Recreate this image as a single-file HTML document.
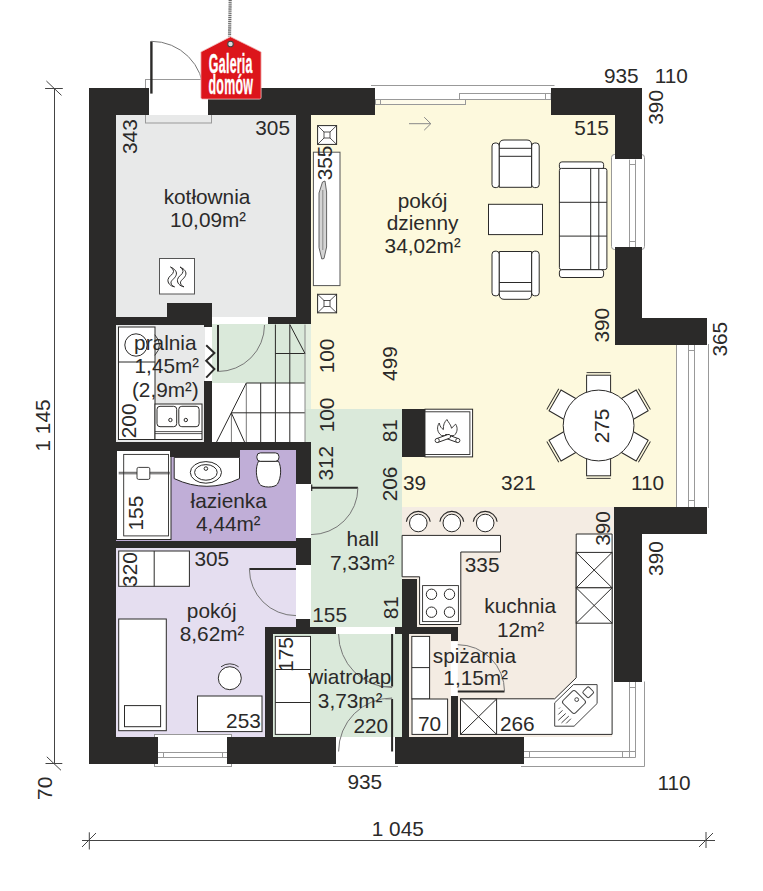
<!DOCTYPE html>
<html><head><meta charset="utf-8">
<style>
html,body{margin:0;padding:0;background:#fff;width:763px;height:891px;overflow:hidden}
svg{display:block}
text{font-family:"Liberation Sans",sans-serif;fill:#2b2a29}
.t{font-size:20.8px}
.r{font-size:20.8px}
.ln{fill:none;stroke:#2b2a29;stroke-width:1}
.lg{fill:none;stroke:#9a9a9a;stroke-width:1}
.fw{fill:#fff;stroke:#2b2a29;stroke-width:1}
.wl{fill:#2b2a29}
</style></head>
<body>
<svg width="763" height="891" viewBox="0 0 763 891">
<!-- ROOM FILLS -->
<g id="fills">
  <rect x="116" y="115" width="180" height="202" fill="#e8e9e9"/>
  <rect x="116" y="324" width="89" height="118" fill="#e8e9e9"/>
  <polygon points="311,115 615,115 615,344 677,344 677,507 402,507 402,409 311,409" fill="#fdf9dd"/>
  <rect x="375" y="99" width="177" height="16" fill="#fdf9dd"/>
  <rect x="212" y="324" width="93" height="59" fill="#dae9da"/>
  <rect x="305" y="324" width="6" height="85" fill="#e3eee0"/>
  <rect x="212" y="383" width="93" height="60" fill="#fff"/>
  <rect x="305" y="409" width="97" height="218" fill="#dae9da"/>
  <rect x="273" y="627" width="130" height="110" fill="#dae9da"/>
  <rect x="402" y="507" width="213" height="230" fill="#f4ece3"/>
  <rect x="612" y="534" width="3" height="203" fill="#fff"/>
  <rect x="116" y="450" width="180" height="91" fill="#c0aed7"/>
  <rect x="116" y="548" width="180" height="79" fill="#e5def0"/>
  <rect x="116" y="620" width="149" height="117" fill="#e5def0"/>
</g>


<!-- FURNITURE / FIXTURES (under walls) -->
<g id="furn" fill="#fff" stroke="#2b2a29" stroke-width="1">
  <!-- kotlownia boiler -->
  <rect x="159.5" y="258.5" width="35" height="35.5" stroke="#555"/>
  <path id="flm" d="M170.5,267 C175,269 177.5,272 176,275.5 C174.5,279 170.5,280.5 171,283 C171.3,285 172.5,286 174.5,286.8 C170,286 167.5,283 168,279.5 C168.5,276 173.5,274.5 173.5,271.5 C173.5,269.5 172,268 170.5,267 Z" fill="none" stroke-width="1"/><use href="#flm" transform="translate(9.5,0)"/>
  <!-- pralnia washer column -->
  <rect x="118.5" y="327" width="36.5" height="112.5"/>
  <line x1="118.5" y1="362" x2="155" y2="362"/>
  <circle cx="136" cy="345" r="11.2" fill="none"/>
  <path d="M154.8,334.7 Q164,345 154.8,355.4" fill="none" stroke-width="0.9"/>
  <!-- pralnia sink counter -->
  <rect x="155" y="404" width="47" height="35.5"/>
  <rect x="157" y="406.3" width="19.7" height="20.4" rx="3"/>
  <rect x="178.8" y="406.3" width="20.3" height="20.4" rx="3"/>
  <circle cx="170.4" cy="420" r="1.7"/>
  <circle cx="185.8" cy="420" r="1.7"/>
  <line x1="155" y1="431.6" x2="202" y2="431.6" stroke-width="0.8"/>
  <line x1="155" y1="433.6" x2="202" y2="433.6" stroke-width="0.8"/>
  <!-- bathtub -->
  <rect x="116.5" y="450.5" width="54.5" height="89"/>
  <rect x="123.7" y="454.4" width="44.8" height="81.5" stroke-width="0.9"/>
  <line x1="118.7" y1="472.3" x2="169.8" y2="472.3" stroke-width="0.8"/>
  <line x1="118.7" y1="473.8" x2="169.8" y2="473.8" stroke-width="0.8"/>
  <rect x="137" y="467.4" width="12.8" height="12" rx="1.5" stroke-width="0.9"/>
  <!-- bathroom sink counter -->
  <path d="M174.2,457.4 L239.5,457.4 L239.5,478.6 Q207,494 174.2,478.6 Z"/>
  <ellipse cx="205.9" cy="472.4" rx="15.6" ry="10.8"/>
  <ellipse cx="205.9" cy="472.4" rx="11.3" ry="7.8"/>
  <circle cx="205.9" cy="468.6" r="1.8"/>
  <!-- toilet -->
  <path d="M258.5,461.3 C255.5,467 255.5,477 259.5,484 C262,488 275,488 277.5,484 C281.5,477 281.5,467 278.5,461.3 Z"/>
  <rect x="256.9" y="452.9" width="22" height="8.4" rx="3.5"/>
  <!-- pokoj shelf -->
  <rect x="118.7" y="551" width="70.7" height="35.3"/>
  <line x1="154.2" y1="551" x2="154.2" y2="586.3"/>
  <!-- bed -->
  <rect x="118.7" y="619" width="47.6" height="111.7"/>
  <rect x="124.5" y="705.6" width="36.1" height="21.1"/>
  <!-- chair -->
  <circle cx="229.8" cy="678.2" r="11.5"/>
  <path d="M221,666.8 A14.5,14.5 0 0 1 238.6,666.8" fill="none" stroke-width="0.9"/>
  <!-- desk -->
  <rect x="197.5" y="696" width="64.5" height="35.6"/>
  <!-- wiatrolap shelf -->
  <rect x="275.3" y="636.4" width="35.2" height="98"/>
  <line x1="275.3" y1="669.5" x2="310.5" y2="669.5"/>
  <line x1="275.3" y1="702.5" x2="310.5" y2="702.5"/>
  <!-- living: vents -->
  <rect x="317.6" y="125.6" width="19" height="18.8"/>
  <rect x="324" y="132" width="6" height="6" stroke-width="0.8"/>
  <path d="M317.6,125.6 L324,132 M336.6,125.6 L330,132 M317.6,144.4 L324,138 M336.6,144.4 L330,138" fill="none" stroke-width="0.8"/>
  <rect x="317.6" y="294.3" width="19" height="18.5"/>
  <rect x="324" y="300.5" width="6" height="6" stroke-width="0.8"/>
  <path d="M317.6,294.3 L324,300.5 M336.6,294.3 L330,300.5 M317.6,312.8 L324,306.5 M336.6,312.8 L330,306.5" fill="none" stroke-width="0.8"/>
  <!-- radiator -->
  <rect x="313.4" y="152.2" width="26.6" height="133.4" stroke="#555"/>
  <path d="M325,181 L326.6,192 L326.6,247 L324,258.5 L321.8,259 L319,247.5 L319,193 L322.5,182 Z" fill="#d4d4d4" stroke="#555" stroke-width="0.9"/><line x1="322.8" y1="190" x2="322.8" y2="250" stroke="#777" stroke-width="0.8"/>
  <!-- armchair top -->
  <rect x="492" y="143" width="7.3" height="44.6" rx="3"/>
  <rect x="531.6" y="143" width="7.6" height="44.6" rx="3"/>
  <path d="M499.3,187.3 L499.3,145 Q499.3,140 504,140 L527,140 Q531.6,140 531.6,145 L531.6,187.3 Z"/>
  <line x1="499.3" y1="148.3" x2="531.6" y2="148.3"/>
  <line x1="499.3" y1="156.3" x2="531.6" y2="156.3"/>
  <!-- coffee table -->
  <rect x="488.5" y="204.3" width="54" height="30.3"/>
  <!-- armchair bottom -->
  <rect x="492" y="251.2" width="7.3" height="44.6" rx="3"/>
  <rect x="531.6" y="251.2" width="7.6" height="44.6" rx="3"/>
  <path d="M499.3,251.5 L499.3,294 Q499.3,299.3 504,299.3 L527,299.3 Q531.6,299.3 531.6,294 L531.6,251.5 Z"/>
  <line x1="499.3" y1="291.2" x2="531.6" y2="291.2"/>
  <line x1="499.3" y1="282.5" x2="531.6" y2="282.5"/>
  <!-- sofa -->
  <rect x="559.4" y="161.9" width="44.2" height="7.5" rx="2.5"/>
  <rect x="559.4" y="269.6" width="44.2" height="7.9" rx="2.5"/>
  <rect x="559.4" y="168.4" width="47.5" height="101.2" rx="2"/>
  <line x1="559.4" y1="202.3" x2="606.9" y2="202.3"/>
  <line x1="559.4" y1="236.1" x2="606.9" y2="236.1"/>
  <line x1="590.7" y1="168.4" x2="590.7" y2="269.6"/>
  <line x1="598.8" y1="168.4" x2="598.8" y2="269.6"/>
  <!-- fireplace -->
  <rect x="425" y="409.2" width="47.6" height="47.7"/>
  <rect x="425" y="411.8" width="44.9" height="42.7" stroke-width="0.9"/>
  <g stroke-width="0.9">
    <path d="M441.6,435.6 C437,432.5 436.5,427 439.2,423 C440,426.5 441.5,428.5 443.4,429.5 C443,425 444.5,422 446.9,419.5 C448.5,422.5 451,425 451.6,428.3 C452.5,427 454,425.5 455.7,424.2 C458,428 457.5,432.5 454,435.6 Z" fill="#fff"/>
    <rect x="-7.5" y="-2" width="15" height="4" rx="2" transform="translate(451.6,438.3) rotate(20)" fill="#fff"/>
    <rect x="-7.5" y="-2" width="15" height="4" rx="2" transform="translate(443.4,438.3) rotate(-20)" fill="#fff"/>
    <circle cx="437.2" cy="440.5" r="2.1" fill="#fff"/>
    <circle cx="457.8" cy="440.5" r="2.1" fill="#fff"/>
  </g>
  <!-- dining chairs -->
  <g transform="translate(598.6,425.5)">
    <g id="chair"><rect x="-12" y="-50.3" width="24" height="22"/><line x1="-12" y1="-52.9" x2="12" y2="-52.9" stroke-width="0.9"/></g>
    <use href="#chair" transform="rotate(60)"/>
    <use href="#chair" transform="rotate(120)"/>
    <use href="#chair" transform="rotate(180)"/>
    <use href="#chair" transform="rotate(240)"/>
    <use href="#chair" transform="rotate(300)"/>
    <circle cx="0" cy="0" r="35.4"/>
  </g>
  <!-- kitchen stools -->
  <g fill="#fff">
    <circle cx="418.3" cy="523" r="8.8"/><path d="M406.4,521.8 A12,12 0 0 1 430.2,521.8" fill="none" stroke-width="1.1"/>
    <circle cx="451.8" cy="523" r="8.8"/><path d="M439.9,521.8 A12,12 0 0 1 463.7,521.8" fill="none" stroke-width="1.1"/>
    <circle cx="485.2" cy="523" r="8.8"/><path d="M473.3,521.8 A12,12 0 0 1 497.1,521.8" fill="none" stroke-width="1.1"/>
  </g>
  <!-- kitchen L counter -->
  <path d="M402.1,535.4 L500.5,535.4 L500.5,552 L460.8,552 L460.8,624.5 L419.6,624.5 L419.6,576.8 L402.1,576.8 Z"/>
  <rect x="422.6" y="585.6" width="35.8" height="36" stroke-width="0.9"/>
  <circle cx="431.5" cy="594.3" r="5.2"/><circle cx="449.5" cy="594.3" r="5.2"/>
  <circle cx="431.5" cy="612.2" r="5.2"/><circle cx="449.5" cy="612.2" r="5.2"/>
  <!-- kitchen right counter -->
  <path d="M576.2,534 L612.1,534 L612.1,734.4 L460.5,734.4 L460.5,698.8 L554.7,698.8 L576.2,677.8 Z"/>
  <rect x="576.2" y="552.4" width="35.9" height="35.4"/>
  <path d="M576.2,552.4 L612.1,587.8 M612.1,552.4 L576.2,587.8" fill="none"/>
  <rect x="576.2" y="587.8" width="35.9" height="35.4"/>
  <path d="M576.2,587.8 L612.1,623.2 M612.1,587.8 L576.2,623.2" fill="none"/>
  <!-- corner sink -->
  <path d="M554.7,702.8 L573.5,684.6 L597.1,684.6 L597.1,703.5 L574.1,726.2 L554.7,726.2 Z" stroke="#444"/>
  <rect x="-8.8" y="-8.8" width="17.6" height="17.6" rx="2.5" transform="translate(574,702) rotate(45)" stroke="#444"/>
  <rect x="-4.2" y="-4.2" width="8.4" height="8.4" rx="1.5" transform="translate(588.2,692.3) rotate(45)" stroke="#444"/>
  <circle cx="576.7" cy="699.6" r="1.9" stroke="#444"/>
  <path d="M559,708.6 L560,707.6 M558.3,714.5 L562.5,710.3 M558.3,720.3 L565.7,713.5 M561.5,722.9 L568.8,716.1 M566.2,723.4 L570.9,718.7" fill="none" stroke="#444"/>
  <!-- pantry -->
  <rect x="411.8" y="636.4" width="17.8" height="62.6"/>
  <line x1="411.8" y1="667.6" x2="429.6" y2="667.6"/>
  <rect x="412" y="699" width="35.6" height="35.4"/>
  <rect x="460.5" y="699" width="36.1" height="35.4"/>
  <path d="M460.5,699 L496.6,734.4 M496.6,699 L460.5,734.4" fill="none"/>
</g>


<!-- STAIRS -->
<g id="stairs" fill="none" stroke="#2b2a29" stroke-width="1">
  <line x1="246.3" y1="383" x2="305" y2="383"/>
  <line x1="260.7" y1="383" x2="260.7" y2="442.5"/>
  <line x1="275.4" y1="324.5" x2="275.4" y2="442.5"/>
  <line x1="289.8" y1="324.5" x2="289.8" y2="442.5"/>
  <line x1="246.3" y1="383" x2="246.3" y2="442.5" stroke="#777"/>
  <line x1="231.4" y1="413" x2="231.4" y2="442.5" stroke="#777"/>
  <line x1="231.4" y1="412.8" x2="305" y2="412.8"/>
  <line x1="275.4" y1="353.5" x2="305" y2="353.5"/>
  <line x1="305" y1="324.5" x2="305" y2="442.5" stroke="#888"/>
  <line x1="216.2" y1="442.8" x2="246.3" y2="383"/>
  <line x1="231.4" y1="413" x2="244.9" y2="442.8"/>
  <line x1="289.8" y1="324.5" x2="305" y2="353.5"/>
</g>

<!-- WINDOWS -->
<g id="windows" stroke="#999" stroke-width="1" fill="none">
  <!-- top living -->
  <rect x="375" y="86" width="176" height="13.6" fill="#fff" stroke="none"/>
  <line x1="371" y1="85.5" x2="554.5" y2="85.5"/>
  <rect x="375.5" y="99.5" width="90" height="5" fill="#fefbea"/>
  <line x1="380.5" y1="99.5" x2="380.5" y2="104.5"/>
  <rect x="459.5" y="93.5" width="91.5" height="6" fill="#fff"/>
  <line x1="545.5" y1="93.5" x2="545.5" y2="99.5"/>
  <!-- right upper -->
  <rect x="611.5" y="154.5" width="33" height="95" rx="3" fill="#fff"/>
  <line x1="629.5" y1="159.6" x2="629.5" y2="247"/>
  <line x1="635.5" y1="159.6" x2="635.5" y2="247"/>
  <line x1="629.5" y1="164.5" x2="635.5" y2="164.5"/>
  <line x1="629.5" y1="241.5" x2="635.5" y2="241.5"/>
  <!-- right lower -->
  <rect x="676.7" y="344" width="32" height="163" fill="#fff" stroke="none"/>
  <line x1="676.5" y1="344" x2="676.5" y2="507"/>
  <line x1="708.5" y1="344" x2="708.5" y2="508"/>
  <line x1="688.5" y1="345" x2="688.5" y2="507"/>
  <line x1="694.5" y1="345" x2="694.5" y2="507"/>
  <line x1="688.5" y1="350.5" x2="694.5" y2="350.5"/>
  <line x1="688.5" y1="500.5" x2="694.5" y2="500.5"/>
  <!-- right bottom + corner -->
  <path d="M644.5,681.5 L644.5,766.5 L521,766.5" />
  <line x1="629.5" y1="681.5" x2="629.5" y2="757.5"/>
  <line x1="635.5" y1="681.5" x2="635.5" y2="757.5"/>
  <line x1="523.6" y1="751.5" x2="635.5" y2="751.5"/>
  <line x1="523.6" y1="757.5" x2="635.5" y2="757.5"/>
  <line x1="629.5" y1="751.5" x2="629.5" y2="757.5"/>
  <line x1="629.5" y1="687.5" x2="635.5" y2="687.5"/>
  <line x1="622.5" y1="751.5" x2="622.5" y2="757.5"/>
  <line x1="529.5" y1="751.5" x2="529.5" y2="757.5"/>
  <!-- bottom left -->
  <rect x="154.5" y="734.5" width="77" height="32" fill="#fff"/>
  <line x1="158" y1="752.5" x2="227.8" y2="752.5"/>
  <line x1="158" y1="757.5" x2="227.8" y2="757.5"/>
  <line x1="163.5" y1="752.5" x2="163.5" y2="757.5"/>
  <line x1="222.5" y1="752.5" x2="222.5" y2="757.5"/>
  <!-- entry threshold -->
  <rect x="336" y="737" width="59" height="27" fill="#fff" stroke="none"/>
  <line x1="333" y1="766.5" x2="398" y2="766.5"/>
  <!-- kotlownia ext door frame -->
  <rect x="149" y="87" width="59" height="28" fill="#fff" stroke="none"/>
  <rect x="145.5" y="79.5" width="66" height="43.5"/>
</g>
<!-- DOORS -->
<g id="doors" fill="none" stroke="#2b2a29">
  <line x1="151.4" y1="41.3" x2="151.4" y2="93.6" stroke-width="2.4"/>
  <path d="M151.4,41.3 A52.3,52.3 0 0 1 203.7,93.6" stroke="#777" stroke-width="1"/>
  <line x1="218" y1="325" x2="218" y2="371.5" stroke-width="2"/>
  <path d="M218,371.5 A46.5,46.5 0 0 0 264.5,325" stroke="#777" stroke-width="1"/>
  <polyline points="206.2,345.3 214.4,353 206.2,360.7 214.4,369.1 206.2,377.6" stroke-width="2"/>
  <!-- hall/lazienka -->
  <rect x="296" y="484" width="15" height="54" fill="#fff" stroke="none"/>
  <line x1="311" y1="487.7" x2="357.9" y2="487.7" stroke-width="2"/>
  <line x1="311.7" y1="484.5" x2="311.7" y2="491" stroke-width="1.2"/>
  <path d="M357.9,487.7 A46.9,46.9 0 0 1 311,534.6" stroke="#777" stroke-width="1"/>
  <!-- pokoj door -->
  <rect x="296" y="565" width="15" height="54" fill="#fff" stroke="none"/>
  <line x1="249.4" y1="569" x2="296" y2="569" stroke-width="2"/>
  <path d="M249.4,569 A46.6,46.6 0 0 0 296,615.6" stroke="#777" stroke-width="1"/>
  <!-- wiatrolap inner -->
  <rect x="336" y="627" width="59" height="7" fill="#fff" stroke="none"/>
  <line x1="392.1" y1="634" x2="392.1" y2="686.5" stroke-width="2"/>
  <line x1="379.5" y1="686.5" x2="392.1" y2="686.5" stroke="#777" stroke-width="0.8"/>
  <path d="M338.6,634 A53.5,53.5 0 0 0 392.1,687.5" stroke="#777" stroke-width="1"/>
  <!-- entry -->
  <line x1="392.1" y1="699" x2="392.1" y2="751.5" stroke-width="2"/>
  <line x1="385.4" y1="699" x2="392.1" y2="699" stroke="#777" stroke-width="0.8"/>
  <path d="M338.6,751.5 A53.5,53.5 0 0 1 392.1,698" stroke="#777" stroke-width="1"/>
  <!-- pantry -->
  <rect x="450.8" y="641.5" width="7" height="55" fill="#fff" stroke="none"/>
  <line x1="457.8" y1="691.4" x2="504.5" y2="691.4" stroke-width="2"/>
  <path d="M457.8,644.7 A46.7,46.7 0 0 1 504.5,691.4" stroke="#777" stroke-width="1"/>
  <!-- arrow -->
  <path d="M409,123.7 L430.8,123.7 M424.2,117.2 L430.8,123.7 L424.2,130.2" stroke="#888" stroke-width="1"/>
</g>
<!-- WALLS -->
<g class="wl">
  <rect x="89" y="88" width="60" height="27"/>
  <rect x="89" y="88" width="27" height="676"/>
  <rect x="208" y="88" width="167" height="27"/>
  <rect x="551" y="88" width="91" height="27"/>
  <rect x="615" y="88" width="27" height="71"/>
  <rect x="615" y="247" width="27" height="98"/>
  <rect x="615" y="318" width="92" height="27"/>
  <rect x="614" y="507" width="93" height="27"/>
  <rect x="614" y="507" width="28" height="175"/>
  <rect x="89" y="737" width="69" height="27"/>
  <rect x="227" y="737" width="109" height="27"/>
  <rect x="395" y="737" width="129" height="27"/>
  <!-- interior -->
  <rect x="296" y="115" width="15" height="209"/>
  <rect x="116" y="317" width="89" height="8"/>
  <rect x="167" y="303" width="45" height="14"/>
  <rect x="204" y="303" width="8" height="24"/>
  <rect x="268" y="317" width="43" height="7"/>
  <rect x="204" y="381" width="8" height="62"/>
  <rect x="116" y="442" width="195" height="8"/>
  <rect x="170" y="450" width="70" height="7"/>
  <rect x="296" y="442" width="15" height="42"/>
  <rect x="296" y="538" width="15" height="27"/>
  <rect x="116" y="541" width="180" height="7"/>
  <rect x="296" y="619" width="14" height="8"/>
  <rect x="265" y="627" width="71" height="7"/>
  <rect x="395" y="627" width="8" height="7"/>
  <rect x="265" y="627" width="8" height="110"/>
  <rect x="402" y="409" width="23" height="48"/>
  <rect x="402" y="579" width="15" height="48"/>
  <rect x="402" y="627" width="7" height="110"/>
  <rect x="395" y="627" width="63" height="7"/>
  <rect x="451" y="627" width="7" height="14"/>
  <rect x="451" y="696" width="7" height="41"/>
</g>


<!-- DIMENSION LINES -->
<g fill="none" stroke="#444" stroke-width="1">
  <line x1="54.5" y1="88.5" x2="54.5" y2="763.5"/>
  <line x1="45.1" y1="88.5" x2="62.8" y2="88.5"/>
  <line x1="46.4" y1="81" x2="61.5" y2="95.4"/>
  <line x1="45.5" y1="763.5" x2="62.3" y2="763.5"/>
  <line x1="46.8" y1="756.8" x2="61" y2="770.3"/>
  <line x1="82" y1="840.5" x2="715" y2="840.5"/>
  <line x1="89.3" y1="832.3" x2="89.3" y2="849.5"/>
  <line x1="82" y1="847" x2="96" y2="833"/>
  <line x1="706" y1="832" x2="706" y2="848"/>
  <line x1="699" y1="847" x2="713" y2="833"/>
</g>
<!-- TAG -->
<g id="tag">
  <line x1="230.2" y1="0" x2="229.5" y2="36.5" stroke="#6a6a6a" stroke-width="3.2" stroke-dasharray="1.3,0.8"/>
  <path d="M230.5,36.7 L261.1,51.9 L261.1,97.5 Q261.1,99.1 259.5,99.1 L202.5,99.1 Q200.9,99.1 200.9,97.5 L200.9,51.9 Z" fill="#dc151b" stroke="#f3c0c0" stroke-width="0.8" stroke-linejoin="round"/>
  <circle cx="230.5" cy="44" r="2.8" fill="#ddd" stroke="#444" stroke-width="1.1"/>
  <text x="0" y="0" transform="translate(230.8,72.7) scale(0.435,1)" text-anchor="middle" style="font-family:'Liberation Sans',sans-serif;font-weight:bold;font-size:28.5px;fill:#fff;stroke:#fff;stroke-width:0.45;letter-spacing:0.6px">Galeria</text>
  <text x="0" y="0" transform="translate(230.8,94.4) scale(0.435,1)" text-anchor="middle" style="font-family:'Liberation Sans',sans-serif;font-weight:bold;font-size:28.5px;fill:#fff;stroke:#fff;stroke-width:0.45;letter-spacing:0.6px">domów</text>
</g>

<!-- TEXT -->
<g id="texts">
  <text class="t" x="207" y="204" text-anchor="middle">kotłownia</text>
  <text class="t" x="208" y="226.5" text-anchor="middle">10,09m<tspan style="font-size:20px">²</tspan></text>
  <text class="t" x="290" y="134.7" text-anchor="end">305</text>
  <text class="r" transform="translate(136.8,154) rotate(-90)">343</text>
  <text class="r" transform="translate(332.3,180.3) rotate(-90)">355</text>
  <text class="t" x="422.6" y="208" text-anchor="middle">pokój</text>
  <text class="t" x="422.6" y="229.5" text-anchor="middle">dzienny</text>
  <text class="t" x="422.6" y="252.7" text-anchor="middle">34,02m<tspan style="font-size:20px">²</tspan></text>
  <text class="t" x="638.7" y="82.8" text-anchor="end">935</text>
  <text class="t" x="687.9" y="82.8" text-anchor="end">110</text>
  <text class="r" transform="translate(663.2,124.7) rotate(-90)">390</text>
  <text class="t" x="608.9" y="135.2" text-anchor="end">515</text>
  <text class="r" transform="translate(609.4,342.6) rotate(-90)">390</text>
  <text class="r" transform="translate(727.3,356.6) rotate(-90)">365</text>
  <text class="r" transform="translate(396.7,380.9) rotate(-90)">499</text>
  <text class="r" transform="translate(333.8,373.3) rotate(-90)">100</text>
  <text class="r" transform="translate(333.8,432.3) rotate(-90)">100</text>
  <text class="r" transform="translate(397.4,442.2) rotate(-90)">81</text>
  <text class="r" transform="translate(333.4,480.6) rotate(-90)">312</text>
  <text class="r" transform="translate(397.4,501.3) rotate(-90)">206</text>
  <text class="t" x="403" y="490.3">39</text>
  <text class="t" x="535.8" y="490.3" text-anchor="end">321</text>
  <text class="t" x="664.2" y="490.3" text-anchor="end">110</text>
  <text class="r" transform="translate(608.7,443.3) rotate(-90)">275</text>
  <text class="r" transform="translate(609.5,545.8) rotate(-90)">390</text>
  <text class="r" transform="translate(662.9,575.9) rotate(-90)">390</text>
  <text class="t" x="499.5" y="572.2" text-anchor="end">335</text>
  <text class="t" x="520.2" y="612.7" text-anchor="middle">kuchnia</text>
  <text class="t" x="520.5" y="636.7" text-anchor="middle">12m<tspan style="font-size:20px">²</tspan></text>
  <text class="r" transform="translate(398,619.3) rotate(-90)">81</text>
  <text class="t" x="474.4" y="662.5" text-anchor="middle">spiżarnia</text>
  <text class="t" x="475.6" y="685.3" text-anchor="middle">1,15m<tspan style="font-size:20px">²</tspan></text>
  <text class="t" x="441.2" y="731" text-anchor="end">70</text>
  <text class="t" x="534.6" y="731" text-anchor="end">266</text>
  <text class="t" x="690.7" y="789.7" text-anchor="end">110</text>
  <text class="t" x="382.2" y="789.4" text-anchor="end">935</text>
  <text class="t" x="423.8" y="836.3" text-anchor="end">1 045</text>
  <text class="t" x="349.8" y="684" text-anchor="middle">wiatrołap</text>
  <text class="t" x="350.1" y="707.5" text-anchor="middle">3,73m<tspan style="font-size:20px">²</tspan></text>
  <text class="t" x="388.2" y="733" text-anchor="end">220</text>
  <text class="t" x="260.8" y="727.8" text-anchor="end">253</text>
  <text class="r" transform="translate(292.6,671.8) rotate(-90)">175</text>
  <text class="t" x="347" y="621.5" text-anchor="end">155</text>
  <text class="t" x="211.7" y="617.7" text-anchor="middle">pokój</text>
  <text class="t" x="212" y="641" text-anchor="middle">8,62m<tspan style="font-size:20px">²</tspan></text>
  <text class="t" x="229.2" y="566.1" text-anchor="end">305</text>
  <text class="r" transform="translate(137.3,586.9) rotate(-90)">320</text>
  <text class="t" x="228.7" y="507.9" text-anchor="middle">łazienka</text>
  <text class="t" x="228.3" y="531" text-anchor="middle">4,44m<tspan style="font-size:20px">²</tspan></text>
  <text class="r" transform="translate(143.3,530.5) rotate(-90)">155</text>
  <text class="t" x="362.8" y="545.7" text-anchor="middle">hall</text>
  <text class="t" x="362.3" y="569.5" text-anchor="middle">7,33m<tspan style="font-size:20px">²</tspan></text>
  <text class="t" x="165.3" y="350.2" text-anchor="middle">pralnia</text>
  <text class="t" x="166.8" y="373.4" text-anchor="middle">1,45m<tspan style="font-size:20px">²</tspan></text>
  <text class="t" x="165.3" y="396.6" text-anchor="middle">(2,9m<tspan style="font-size:20px">²</tspan>)</text>
  <text class="r" transform="translate(136.3,438.2) rotate(-90)">200</text>
  <text class="r" transform="translate(50.1,451.5) rotate(-90)">1 145</text>
  <text class="r" transform="translate(52.4,799.9) rotate(-90)">70</text>
</g>
</svg>
</body></html>
